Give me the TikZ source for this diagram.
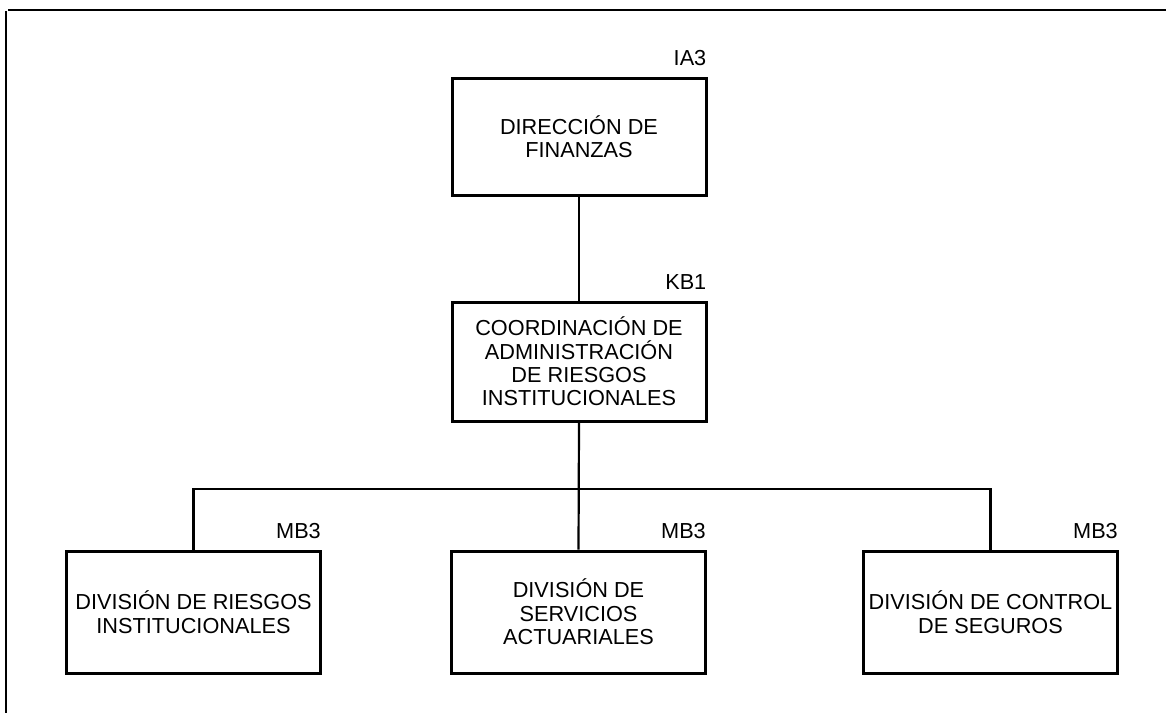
\documentclass[tikz,border=0pt]{standalone}
\usepackage{fontspec}
\setmainfont{Liberation Sans}
\usetikzlibrary{positioning}

\tikzset{
  caja/.style={draw, line width=3pt, inner sep=0pt, align=center,
    minimum width=254pt, minimum height=120pt},
  clave/.style={anchor=base east, inner sep=0pt},
  enlace/.style={line width=2.2pt}
}

\begin{document}
\begin{tikzpicture}[x=1pt,y=-1pt,font=\fontsize{21.7}{23.4}\selectfont]
  \useasboundingbox (0,0) rectangle (1166,713);
  % marco
  \draw[line width=2.8pt] (8,10) -- (1166,10);
  \draw[line width=2.8pt] (6,11) -- (6,713);

  \node[caja, minimum height=117pt] (dir) at (579,136.5) {DIRECCIÓN DE\\FINANZAS};
  \node[caja, minimum height=119pt] (coord) at (579,361.5) {COORDINACIÓN DE\\ADMINISTRACIÓN\\DE RIESGOS\\INSTITUCIONALES};
  \node[caja, minimum height=122pt] (riesgos) at (193.5,612) {DIVISIÓN DE RIESGOS\\INSTITUCIONALES};
  \node[caja, minimum height=122pt] (actuar) at (578.5,612) {DIVISIÓN DE\\SERVICIOS\\ACTUARIALES};
  \node[caja, minimum height=122pt] (seguros) at (990.5,612) {DIVISIÓN DE CONTROL\\DE SEGUROS};

  \node[clave] (kdir) at ([xshift=-1pt,yshift=11pt]dir.north east) {IA3};
  \node[clave] (kcoord) at ([xshift=-1pt,yshift=11pt]coord.north east) {KB1};
  \node[clave] (kriesgos) at ([xshift=-1pt,yshift=11pt]riesgos.north east) {MB3};
  \node[clave] (kactuar) at ([xshift=-1pt,yshift=11pt]actuar.north east) {MB3};
  \node[clave] (kseguros) at ([xshift=-1pt,yshift=11pt]seguros.north east) {MB3};

  % lineas
  \coordinate (bus) at (578,489);
  \draw[enlace] (dir.south) -- (coord.north);
  \draw[enlace] (coord.south) -- (actuar.north);
  \draw[enlace] (riesgos.north) |- (bus) -| (seguros.north);
\end{tikzpicture}
\end{document}
